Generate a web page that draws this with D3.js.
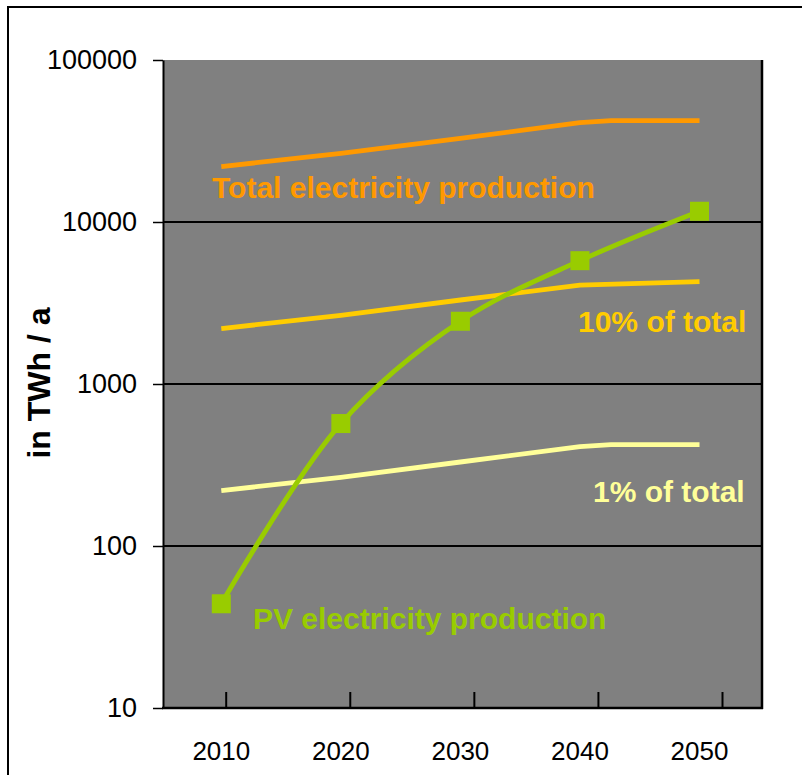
<!DOCTYPE html>
<html>
<head>
<meta charset="utf-8">
<script src="https://cdn.jsdelivr.net/npm/d3@7"></script>
<style>
  html, body { margin: 0; padding: 0; background: #ffffff; }
  svg { display: block; }
  text { font-family: "Liberation Sans", Arial, sans-serif; }
</style>
</head>
<body>
<svg id="chart" width="802" height="775"></svg>
<script>
// Years shown on the category axis
const years = [2010, 2020, 2030, 2040, 2050];
// Y-axis tick values (TWh per year, log scale)
const yTicks = [10, 100, 1000, 10000, 100000];

// Total electricity production (the curve levels off shortly after 2040)
const totalYears = [2010, 2020, 2030, 2040, 2042.6, 2050];
const totalValues = [22000, 26500, 32800, 41000, 42200, 42200];
// 10 % of total
const tenPctYears = [2010, 2020, 2030, 2040, 2050];
const tenPctValues = [2200, 2650, 3300, 4080, 4280];
// 1 % of total
const onePctYears = [2010, 2020, 2030, 2040, 2042.6, 2050];
const onePctValues = [220, 265, 330, 410, 422, 422];
// PV electricity production
const pvYears = [2010, 2020, 2030, 2040, 2050];
const pvValues = [44, 570, 2440, 5770, 11650];

const svg = d3.select("#chart");

// Plot area
const plot = { left: 163, top: 60, right: 762, bottom: 708 };

const y = d3.scaleLog()
  .domain([10, 100000])
  .range([plot.bottom, plot.top]);

// Series layer and the category labels
const x = d3.scaleLinear()
  .domain([2010, 2050])
  .range([221.3, 699.5]);

// Tick marks on the category axis
const xTick = d3.scaleLinear()
  .domain([2010, 2050])
  .range([225.7, 722]);

// Outer frame
svg.append("rect")
  .attr("x", 8).attr("y", 7)
  .attr("width", 820).attr("height", 820)
  .attr("fill", "none")
  .attr("stroke", "#000")
  .attr("stroke-width", 2);

// Grey plot background
svg.append("rect")
  .attr("x", plot.left).attr("y", plot.top)
  .attr("width", plot.right - plot.left)
  .attr("height", plot.bottom - plot.top)
  .attr("fill", "#808080");

// Horizontal gridlines
svg.append("g")
  .selectAll("line")
  .data(yTicks.filter(d => d > 10 && d < 100000))
  .join("line")
  .attr("x1", plot.left).attr("x2", plot.right)
  .attr("y1", d => y(d)).attr("y2", d => y(d))
  .attr("stroke", "#000")
  .attr("stroke-width", 2);

// Y axis
const yAxis = d3.axisLeft(y)
  .tickValues(yTicks)
  .tickFormat(d3.format("d"))
  .tickSizeInner(10)
  .tickSizeOuter(0)
  .tickPadding(16);

const gy = svg.append("g")
  .attr("transform", `translate(${plot.left},0)`)
  .call(yAxis);
gy.select(".domain").attr("stroke", "#000").attr("stroke-width", 2);
gy.selectAll(".tick line").attr("stroke", "#000").attr("stroke-width", 1.5);
gy.selectAll(".tick text")
  .attr("font-family", "Liberation Sans, Arial, sans-serif")
  .attr("font-size", 27)
  .attr("fill", "#000");

// X axis: baseline, inward tick marks, labels
svg.append("line")
  .attr("x1", plot.left - 1).attr("x2", plot.right + 1)
  .attr("y1", plot.bottom).attr("y2", plot.bottom)
  .attr("stroke", "#000").attr("stroke-width", 2.5);

const xAxis = d3.axisTop(xTick)
  .tickValues(years)
  .tickFormat("")
  .tickSizeInner(16)
  .tickSizeOuter(0);
const gx = svg.append("g")
  .attr("transform", `translate(0,${plot.bottom})`)
  .call(xAxis);
gx.select(".domain").remove();
gx.selectAll(".tick line").attr("stroke", "#000").attr("stroke-width", 2);

svg.append("g")
  .selectAll("text")
  .data(years)
  .join("text")
  .attr("x", d => x(d))
  .attr("y", 760)
  .attr("text-anchor", "middle")
  .attr("font-size", 26)
  .attr("fill", "#000")
  .text(d => d);

// Right border of the plot
svg.append("line")
  .attr("x1", plot.right).attr("x2", plot.right)
  .attr("y1", plot.top).attr("y2", plot.bottom + 1)
  .attr("stroke", "#000").attr("stroke-width", 2.5);

// Y-axis title
svg.append("text")
  .attr("transform", `translate(50,383) rotate(-90)`)
  .attr("text-anchor", "middle")
  .attr("font-size", 32)
  .attr("font-weight", "bold")
  .attr("fill", "#000")
  .text("in TWh / a");

// Lines
const lineGen = d3.line()
  .x(d => x(d[0]))
  .y(d => y(d[1]));

function drawLine(xs, vs, color, curve) {
  svg.append("path")
    .datum(d3.zip(xs, vs))
    .attr("fill", "none")
    .attr("stroke", color)
    .attr("stroke-width", 4.8)
    .attr("stroke-linejoin", "round")
    .attr("d", lineGen.curve(curve)(d3.zip(xs, vs)));
}

drawLine(totalYears, totalValues, "#FF9900", d3.curveLinear);
drawLine(tenPctYears, tenPctValues, "#FFCC00", d3.curveLinear);
drawLine(onePctYears, onePctValues, "#FFFF99", d3.curveLinear);
drawLine(pvYears, pvValues, "#99CC00", d3.curveCatmullRom.alpha(0.5));

// PV markers
const ms = 19;
svg.append("g")
  .selectAll("rect")
  .data(d3.zip(pvYears, pvValues))
  .join("rect")
  .attr("x", d => x(d[0]) - ms / 2)
  .attr("y", d => y(d[1]) - ms / 2)
  .attr("width", ms).attr("height", ms)
  .attr("fill", "#99CC00");

// Series labels
const labels = [
  { text: "Total electricity production", color: "#FF9900", x: 212, y: 198 },
  { text: "10% of total", color: "#FFCC00", x: 578, y: 332 },
  { text: "1% of total", color: "#FFFF99", x: 593, y: 502 },
  { text: "PV electricity production", color: "#99CC00", x: 253, y: 629 }
];
svg.append("g")
  .selectAll("text")
  .data(labels)
  .join("text")
  .attr("x", d => d.x)
  .attr("y", d => d.y)
  .attr("font-size", 30)
  .attr("font-weight", "bold")
  .attr("fill", d => d.color)
  .text(d => d.text);
</script>
</body>
</html>
